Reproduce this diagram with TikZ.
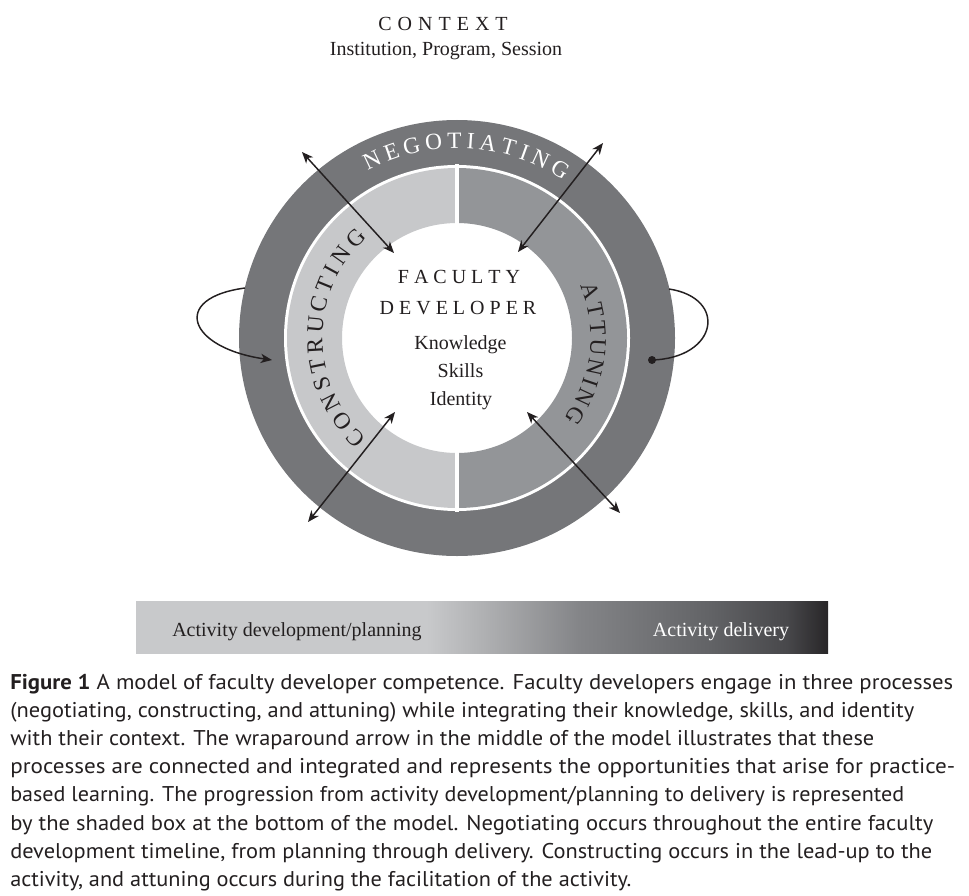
\documentclass[tikz,border=0pt]{standalone}
\usepackage{fontspec}
\usepackage{graphicx}
\setmainfont{Liberation Serif}
\newfontfamily\capfont{PT Sans}
\usetikzlibrary{arrows.meta,decorations.text}
\definecolor{ringdark}{RGB}{117,118,121}
\definecolor{ringlight}{RGB}{199,200,202}
\definecolor{ringmid}{RGB}{147,149,152}
\definecolor{ink}{RGB}{35,31,32}
\definecolor{barA}{RGB}{200,201,203}
\definecolor{barB}{RGB}{176,177,179}
\definecolor{barC}{RGB}{132,133,136}
\definecolor{barD}{RGB}{98,99,102}
\definecolor{barE}{RGB}{72,72,75}
\definecolor{barF}{RGB}{40,38,40}
\pgfdeclarehorizontalshading{barshade}{100bp}{color(0bp)=(barA); color(46bp)=(barA); color(50bp)=(barB); color(57bp)=(barC); color(66.5bp)=(barD); color(72bp)=(barE); color(75bp)=(barF); color(100bp)=(barF)}
\newsavebox\fitbox
\newlength\fitwd
\newcommand\fitto[2]{\sbox\fitbox{\capfont\fontsize{16}{19}\selectfont #2}\setlength\fitwd{\wd\fitbox}\pgfmathsetmacro\fitsx{#1*0.75/\fitwd}\scalebox{\fitsx}[1]{\usebox\fitbox}}
\newcommand\lsA{\kern0.25em}
\newcommand\lsB{\kern0.3em}
\newcommand\ringfont{\fontsize{17.5}{21}\selectfont}
\begin{document}
\begin{tikzpicture}[x=0.75pt,y=0.75pt,
  dblarrow/.style={{Stealth[length=8.5pt,width=7pt,inset=2.5pt]}-{Stealth[length=8.5pt,width=7pt,inset=2.5pt]}, line width=1.1pt, draw=ink},
  loopline/.style={line width=1.1pt, draw=ink},
  lbl/.style={font=\fontsize{15}{18}\selectfont, text=ink, inner sep=0pt},
  caption/.style={anchor=base west, inner sep=0pt, text=ink},
  sep/.style={white, line width=2.3pt},
  ringlbl/.style={decorate}
]
\useasboundingbox (0,0) rectangle (969,-895);
\coordinate (c) at (457,-338);

% rings
\begin{scope}[shift={(c)}]
  \fill[ringdark] (0,0) circle[radius=218];
  \fill[white] (0,0) circle[radius=173];
  \fill[ringlight] (90:170) arc[start angle=90,end angle=270,radius=170] -- (270:115) arc[start angle=270,end angle=90,radius=115] -- cycle;
  \fill[ringmid] (90:170) arc[start angle=90,end angle=-90,radius=170] -- (-90:115) arc[start angle=-90,end angle=90,radius=115] -- cycle;
  \draw[sep] (90:114) -- (90:174);
  \draw[sep] (-90:114) -- (-90:174);
  % curved labels
  \path[ringlbl, decoration={text along path, text={|\ringfont|NEGOTIATING}, text align={fit to path}, text color=white}]
    (118:190) arc[start angle=118, end angle=56, radius=190];
  \path[ringlbl, decoration={text along path, text={|\ringfont|CONSTRUCTING}, text align={fit to path}, text color=ink}]
    (228:134.5) arc[start angle=228, end angle=132, radius=134.5];
  \path[ringlbl, decoration={text along path, text={|\ringfont|ATTUNING}, text align={fit to path}, text color=ink}]
    (23:133.5) arc[start angle=23, end angle=-37, radius=133.5];
\end{scope}

% wraparound arrow
\coordinate (wlS) at (245,-288);
\coordinate (wlE) at (272,-360);
\coordinate (wrS) at (669,-289);
\node[circle, fill=ink, inner sep=0pt, minimum size=6pt] (dot) at (652,-360) {};
\draw[loopline, -{Stealth[length=8.5pt,width=7pt,inset=2.5pt]}] (wlS) .. controls (170,-298) and (188,-348) .. (wlE);
\draw[loopline] (wrS) .. controls (728,-298) and (718,-358) .. (dot.center);

% diagonal arrows
\coordinate (nwO) at (302,-152);
\coordinate (nwI) at (394,-253);
\coordinate (neO) at (603,-143);
\coordinate (neI) at (518,-252);
\coordinate (swI) at (395,-412);
\coordinate (swO) at (308,-522);
\coordinate (seI) at (527,-412);
\coordinate (seO) at (620,-513);
\draw[dblarrow] (nwO) -- (nwI);
\draw[dblarrow] (neO) -- (neI);
\draw[dblarrow] (swI) -- (swO);
\draw[dblarrow] (seI) -- (seO);

% top labels
\node[lbl, anchor=base] (context) at (443,-31) {C\lsB O\lsB N\lsB T\lsB E\lsB X\lsB T};
\node[lbl, anchor=base] (inst) at (446,-56) {Institution, Program, Session};

% centre labels
\node[lbl, anchor=base] (fac) at (459,-283.5) {F\lsA A\lsA C\lsA U\lsA L\lsA T\lsA Y};
\node[lbl, anchor=base] (dev) at (458,-314) {D\lsA E\lsA V\lsA E\lsA L\lsA O\lsA P\lsA E\lsA R};
\node[lbl, anchor=base] (know) at (460.5,-349) {Knowledge};
\node[lbl, anchor=base] (skills) at (460.5,-377) {Skills};
\node[lbl, anchor=base] (ident) at (461,-405) {Identity};

% bar
\shade[shading=barshade] (136,-601) rectangle (828,-653);
\node[lbl, anchor=base west] (plan) at (172,-636) {Activity development/planning};
\node[lbl, anchor=base, text=white] (deliv) at (721,-636) {Activity delivery};

% caption
\node[caption] (c1) at (10,-689) {\fitto{943}{\bfseries Figure 1\mdseries\ A model of faculty developer competence. Faculty developers engage in three processes}};
\node[caption] (c2) at (10,-717.2) {\fitto{904}{(negotiating, constructing, and attuning) while integrating their knowledge, skills, and identity}};
\node[caption] (c3) at (10,-745.4) {\fitto{864}{with their context. The wraparound arrow in the middle of the model illustrates that these}};
\node[caption] (c4) at (10,-773.6) {\fitto{945}{processes are connected and integrated and represents the opportunities that arise for practice-}};
\node[caption] (c5) at (10,-801.8) {\fitto{894}{based learning. The progression from activity development/planning to delivery is represented}};
\node[caption] (c6) at (10,-830) {\fitto{923}{by the shaded box at the bottom of the model. Negotiating occurs throughout the entire faculty}};
\node[caption] (c7) at (10,-858.2) {\fitto{922}{development timeline, from planning through delivery. Constructing occurs in the lead-up to the}};
\node[caption] (c8) at (10,-886.4) {\fitto{621}{activity, and attuning occurs during the facilitation of the activity.}};
\end{tikzpicture}
\end{document}
